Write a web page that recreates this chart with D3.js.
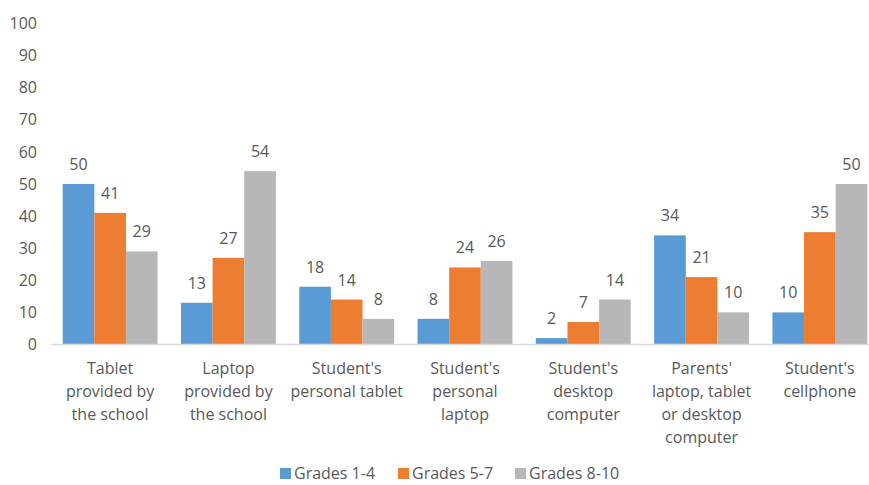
<!DOCTYPE html>
<html>
<head>
<meta charset="utf-8">
<script src="https://cdn.jsdelivr.net/npm/d3@7"></script>
<style>
  body { margin: 0; background: #fff; }
  svg text { font-family: "Open Sans", "Noto Sans", sans-serif; fill: #595959; }
</style>
</head>
<body>
<svg id="chart" width="869" height="485"></svg>
<script>
const categories = [
  ["Tablet", "provided by", "the school"],
  ["Laptop", "provided by", "the school"],
  ["Student's", "personal tablet"],
  ["Student's", "personal", "laptop"],
  ["Student's", "desktop", "computer"],
  ["Parents'", "laptop, tablet", "or desktop", "computer"],
  ["Student's", "cellphone"]
];
const seriesNames = ["Grades 1-4", "Grades 5-7", "Grades 8-10"];
const grades14 = [50, 13, 18, 8, 2, 34, 10];
const grades57 = [41, 27, 14, 24, 7, 21, 35];
const grades810 = [29, 54, 8, 26, 14, 10, 50];
const colors = ["#5B9BD5", "#ED7D31", "#B7B7B7"];
const yTicks = [0, 10, 20, 30, 40, 50, 60, 70, 80, 90, 100];

const series = [grades14, grades57, grades810];
const svg = d3.select("#chart");

const x = d3.scaleBand().domain(d3.range(categories.length)).range([51, 879]).paddingInner(0).paddingOuter(0);
const xSub = d3.scaleBand().domain(d3.range(series.length)).range([0, x.bandwidth()]).paddingInner(0).paddingOuter(0.37);
const y = d3.scaleLinear().domain([0, 100]).range([344.5, 23.5]);

// y tick labels
svg.append("g").selectAll("text").data(yTicks).join("text")
  .attr("x", 37).attr("y", d => y(d)).attr("dy", "0.35em")
  .attr("text-anchor", "end").style("font-size", "16px")
  .text(d => d);

// bars
const groups = svg.append("g").selectAll("g").data(series).join("g")
  .attr("fill", (d, i) => colors[i]);
groups.each(function(vals, si) {
  const g = d3.select(this);
  g.selectAll("rect").data(vals).join("rect")
    .attr("x", (d, ci) => x(ci) + xSub(si))
    .attr("width", xSub.bandwidth())
    .attr("y", d => y(d))
    .attr("height", d => y(0) - y(d));
  g.selectAll("text").data(vals).join("text")
    .attr("x", (d, ci) => x(ci) + xSub(si) + xSub.bandwidth() / 2)
    .attr("y", d => y(d) - 14)
    .attr("text-anchor", "middle").style("font-size", "16px")
    .text(d => d);
});

// axis line
svg.append("line").attr("x1", 51).attr("x2", 869).attr("y1", y(0)).attr("y2", y(0))
  .attr("stroke", "#D9D9D9").attr("stroke-width", 1.5);

// category labels
svg.append("g").selectAll("text").data(categories).join("text")
  .attr("text-anchor", "middle").style("font-size", "16px")
  .each(function(lines, i) {
    d3.select(this).selectAll("tspan").data(lines).join("tspan")
      .attr("x", x(i) + x.bandwidth() / 2)
      .attr("y", (d, j) => 374 + j * 23)
      .text(d => d);
  });

// legend
const legendX = [280, 398, 515];
const legend = svg.append("g").selectAll("g").data(seriesNames).join("g")
  .attr("transform", (d, i) => `translate(${legendX[i]},468)`);
legend.append("rect").attr("width", 11).attr("height", 11).attr("fill", (d, i) => colors[i]);
legend.append("text").attr("x", 14).attr("y", 5.5).attr("dy", "0.35em")
  .style("font-size", "16px").text(d => d);
</script>
</body>
</html>
